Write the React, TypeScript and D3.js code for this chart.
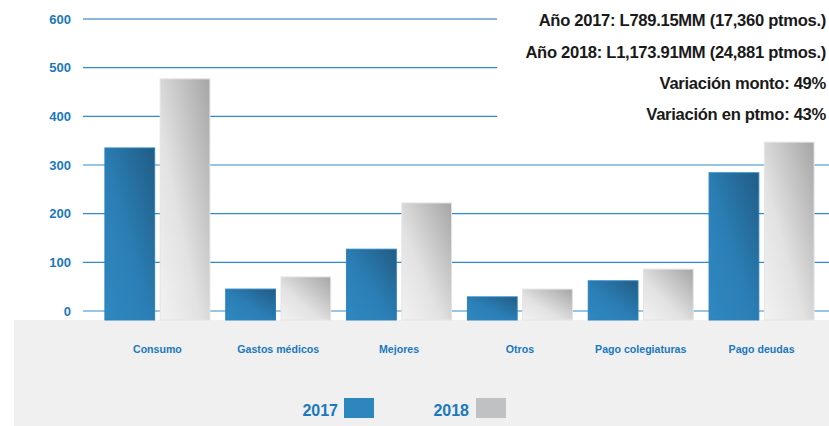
import { useEffect, useRef } from "react";
import * as d3 from "d3";

const categories = [
  "Consumo",
  "Gastos médicos",
  "Mejores",
  "Otros",
  "Pago colegiaturas",
  "Pago deudas",
];
const series = ["2017", "2018"];
const values2017 = [335, 45, 127, 29, 62, 284];
const values2018 = [477, 70, 222, 45, 86, 347];
const yTicks = [0, 100, 200, 300, 400, 500, 600];
const notes = [
  "Año 2017: L789.15MM (17,360 ptmos.)",
  "Año 2018: L1,173.91MM (24,881 ptmos.)",
  "Variación monto: 49%",
  "Variación en ptmo: 43%",
];

const W = 829;
const H = 426;
const BLUE = "#1b78bd";
const FONT = "'Liberation Sans', Arial, sans-serif";

export default function App() {
  const ref = useRef<SVGSVGElement>(null);

  useEffect(() => {
    const svg = d3.select(ref.current);
    svg.selectAll("*").remove();

    const y = d3.scaleLinear().domain([0, 600]).range([311, 19]);
    const x = d3.scaleBand().domain(categories).range([97, 822]);
    const xs = d3.scaleBand().domain(series).range([-52.5, 52.5]).paddingInner(0.1);
    const floorY = 320;

    const defs = svg.append("defs");
    const blue = defs
      .append("linearGradient")
      .attr("id", "gBlue")
      .attr("x1", "0")
      .attr("y1", "1")
      .attr("x2", "1")
      .attr("y2", "0");
    blue.append("stop").attr("offset", "0").attr("stop-color", "#2f88c0");
    blue.append("stop").attr("offset", "0.45").attr("stop-color", "#2b7fb6");
    blue.append("stop").attr("offset", "1").attr("stop-color", "#215c85");
    const grey = defs
      .append("linearGradient")
      .attr("id", "gGrey")
      .attr("x1", "0")
      .attr("y1", "1")
      .attr("x2", "1")
      .attr("y2", "0");
    grey.append("stop").attr("offset", "0").attr("stop-color", "#f2f2f2");
    grey.append("stop").attr("offset", "0.4").attr("stop-color", "#e2e2e2");
    grey.append("stop").attr("offset", "1").attr("stop-color", "#a5a5a5");

    // floor
    svg
      .append("rect")
      .attr("x", 14)
      .attr("y", floorY)
      .attr("width", W - 14)
      .attr("height", H - floorY)
      .attr("fill", "#f0f0f0");

    // grid + y labels
    const g = svg.append("g");
    g.selectAll("line")
      .data(yTicks)
      .enter()
      .append("line")
      .attr("x1", 83)
      .attr("x2", W)
      .attr("y1", (d) => y(d))
      .attr("y2", (d) => y(d))
      .attr("stroke", (d) => (d === 600 ? "#1c6fae" : "#2e8ccc"))
      .attr("stroke-width", 1.2);
    g.selectAll("text")
      .data(yTicks)
      .enter()
      .append("text")
      .attr("x", 71)
      .attr("y", (d) => y(d) + 4.5)
      .attr("text-anchor", "end")
      .attr("fill", BLUE)
      .style("font", `bold 13px ${FONT}`)
      .text((d) => d);

    // bars
    const rows = categories.map((c, i) => ({ c, v: [values2017[i], values2018[i]] }));
    const groups = svg
      .selectAll(".grp")
      .data(rows)
      .enter()
      .append("g")
      .attr("transform", (d) => `translate(${x(d.c)! + x.bandwidth() / 2},0)`);
    series.forEach((s, si) => {
      groups
        .append("rect")
        .attr("x", xs(s)!)
        .attr("y", (d) => y(d.v[si]))
        .attr("width", xs.bandwidth())
        .attr("height", (d) => floorY - y(d.v[si]))
        .attr("fill", si === 0 ? "url(#gBlue)" : "url(#gGrey)")
        .attr("stroke", si === 0 ? "#2a80bd" : "#e4e4e4")
        .attr("stroke-width", 1);
    });

    // category labels
    svg
      .selectAll(".cat")
      .data(categories)
      .enter()
      .append("text")
      .attr("x", (d) => x(d)! + x.bandwidth() / 2)
      .attr("y", 353)
      .attr("text-anchor", "middle")
      .attr("fill", BLUE)
      .style("font", `bold 10.6px ${FONT}`)
      .text((d) => d);

    // legend
    const legend = [
      { s: "2017", tx: 338, bx: 344, fill: "#2e86be" },
      { s: "2018", tx: 469, bx: 476, fill: "#c0c1c3" },
    ];
    legend.forEach((l) => {
      svg
        .append("text")
        .attr("x", l.tx)
        .attr("y", 416)
        .attr("text-anchor", "end")
        .attr("fill", BLUE)
        .style("font", `bold 16px ${FONT}`)
        .text(l.s);
      svg
        .append("rect")
        .attr("x", l.bx)
        .attr("y", 398)
        .attr("width", 30)
        .attr("height", 20)
        .attr("fill", l.fill);
    });

    // notes box (covers top gridlines)
    svg
      .append("rect")
      .attr("x", 497)
      .attr("y", 0)
      .attr("width", W - 497)
      .attr("height", 126)
      .attr("fill", "#fff");
    const noteY = [26, 58, 89, 120];
    svg
      .selectAll(".note")
      .data(notes)
      .enter()
      .append("text")
      .attr("x", 826)
      .attr("y", (_, i) => noteY[i])
      .attr("text-anchor", "end")
      .attr("fill", "#1a1a1a")
      .style("font", `bold 16.6px ${FONT}`)
      .style("letter-spacing", "-0.3px")
      .text((d) => d);
  }, []);

  return (
    <div style={{ position: "absolute", left: 0, top: 0 }}>
      <svg ref={ref} width={W} height={H} style={{ display: "block", background: "#fff" }} />
    </div>
  );
}
